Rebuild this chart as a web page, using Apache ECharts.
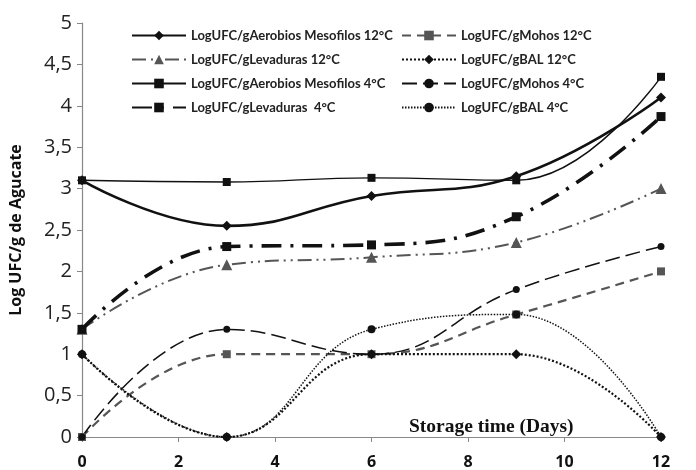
<!DOCTYPE html>
<html><head><meta charset="utf-8">
<script src="https://cdn.jsdelivr.net/npm/echarts@6/dist/echarts.min.js"></script>
<style>html,body{margin:0;padding:0;background:#fff}#c{width:696px;height:470px}</style>
</head><body><div id="c"></div>
<script>
var days = [0, 3, 6, 9, 12];
var aerobios12 = [3.1, 2.55, 2.91, 3.15, 4.1];
var mohos12 = [0, 1.0, 1.0, 1.48, 2.0];
var levaduras12 = [1.3, 2.08, 2.17, 2.35, 3.0];
var bal12 = [1.0, 0, 1.0, 1.0, 0];
var aerobios4 = [3.1, 3.08, 3.13, 3.1, 4.35];
var mohos4 = [0, 1.3, 1.0, 1.78, 2.3];
var levaduras4 = [1.3, 2.3, 2.32, 2.66, 3.87];
var bal4 = [1.0, 0, 1.3, 1.48, 0];
var names = [
  'LogUFC/gAerobios Mesofilos 12°C', 'LogUFC/gMohos 12°C',
  'LogUFC/gLevaduras 12°C', 'LogUFC/gBAL 12°C',
  'LogUFC/gAerobios Mesofilos 4°C', 'LogUFC/gMohos 4°C',
  'LogUFC/gLevaduras  4°C', 'LogUFC/gBAL 4°C'
];
function pts(arr){ return days.map(function(d,i){ return [d, arr[i]]; }); }
function s(name, data, color, width, type, symbol, size){
  return {name:name, type:'line', data:pts(data), smooth:0.45, symbol:symbol, symbolSize:size,
    lineStyle:{color:color, width:width, type:type}, itemStyle:{color:color}, z:3};
}
var chart = echarts.init(document.getElementById('c'));
var legendText = {fontFamily:'Lato', fontWeight:'bold', fontSize:13, color:'#222'};
chart.setOption({
  animation:false,
  grid:{left:78, right:35, top:23, bottom:32},
  legend:[
    {data:[names[0],names[2],names[4],names[6]], orient:'vertical', left:126, top:24, itemWidth:54, itemHeight:12, itemGap:11, textStyle:legendText},
    {data:[names[1],names[3],names[5],names[7]], orient:'vertical', left:396, top:24, itemWidth:54, itemHeight:12, itemGap:11, textStyle:legendText}
  ],
  title:{text:'Storage time (Days)', left:404, top:412, textStyle:{fontFamily:'Liberation Serif', fontWeight:'bold', fontSize:19.5, color:'#111'}},
  xAxis:{type:'value', min:0, max:12, interval:2,
    axisLine:{lineStyle:{color:'#888', width:1.2}},
    axisTick:{show:true, length:5, lineStyle:{color:'#888'}},
    axisLabel:{margin:17, fontFamily:'Open Sans', fontWeight:'bold', fontSize:16, color:'#111'},
    splitLine:{show:false}},
  yAxis:{type:'value', min:0, max:5, interval:0.5,
    name:'Log UFC/g de Agucate', nameLocation:'middle', nameGap:58,
    nameTextStyle:{fontFamily:'Open Sans', fontWeight:'bold', fontSize:16, color:'#111'},
    axisLine:{show:true, lineStyle:{color:'#888', width:1.2}},
    axisTick:{show:true, length:5, lineStyle:{color:'#888'}},
    axisLabel:{margin:10, fontFamily:'Open Sans', fontSize:20, color:'#222',
      formatter:function(v){ return String(v).replace('.', ','); }},
    splitLine:{show:false}},
  series:[
    s(names[0], aerobios12, '#111', 2.6, 'solid', 'diamond', 10),
    s(names[1], mohos12, '#555', 2.2, [9,6], 'rect', 8),
    s(names[2], levaduras12, '#555', 2, [14,5,2,5,2,5], 'triangle', 11),
    s(names[3], bal12, '#111', 2.2, [2,2], 'diamond', 10),
    s(names[4], aerobios4, '#111', 1.4, 'solid', 'rect', 8),
    s(names[5], mohos4, '#111', 1.5, [15,6], 'circle', 7),
    s(names[6], levaduras4, '#111', 3.6, [20,9,3,9], 'rect', 9),
    s(names[7], bal4, '#111', 1.5, [1.5,1.5], 'circle', 8)
  ]
});
</script></body></html>
